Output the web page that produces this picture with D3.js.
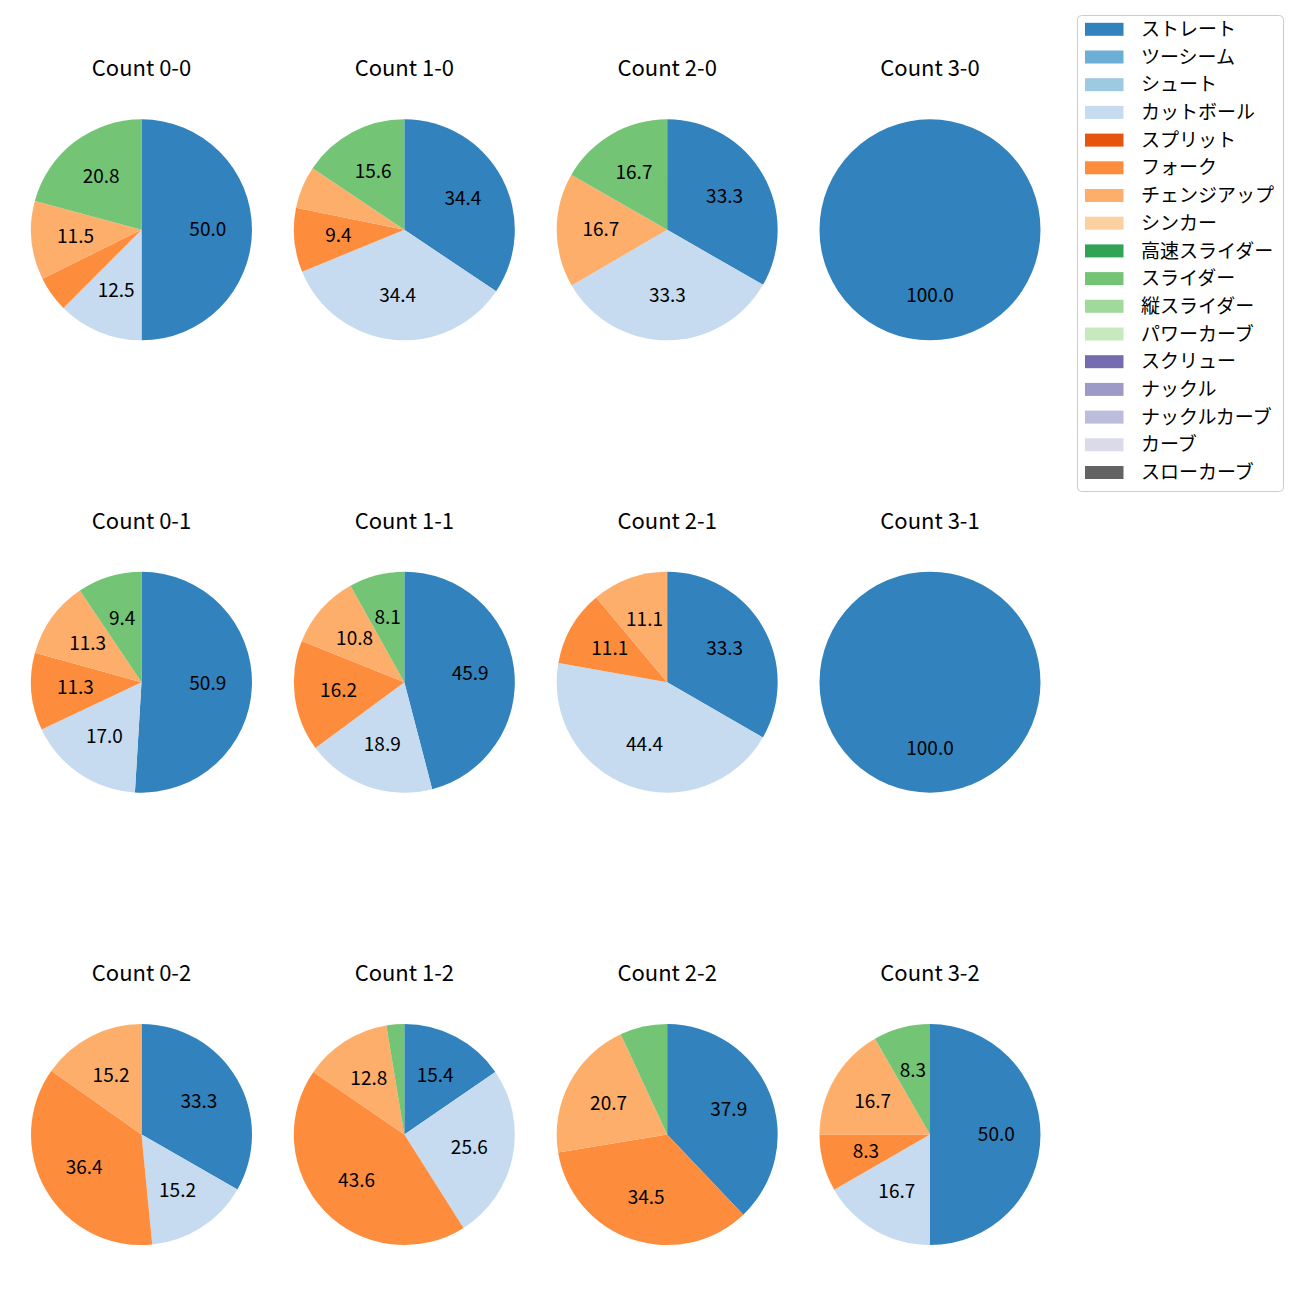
<!DOCTYPE html>
<html>
<head>
<meta charset="utf-8">
<script src="https://cdn.jsdelivr.net/npm/d3@7"></script>
<style>
  body { margin: 0; background: #fff; }
  svg { display: block; }
  text { font-family: "Noto Sans CJK JP", "Noto Sans", sans-serif; }
</style>
</head>
<body>
<svg id="chart" width="1300" height="1300"></svg>
<script>
// Pitch types (legend order) and tab20c colours
const pitchTypes = ["ストレート","ツーシーム","シュート","カットボール","スプリット","フォーク","チェンジアップ","シンカー","高速スライダー","スライダー","縦スライダー","パワーカーブ","スクリュー","ナックル","ナックルカーブ","カーブ","スローカーブ"];
const pitchColors = ["#3182bd","#6baed6","#9ecae1","#c6dbef","#e6550d","#fd8d3c","#fdae6b","#fdd0a2","#31a354","#74c476","#a1d99b","#c7e9c0","#756bb1","#9e9ac8","#bcbddc","#dadaeb","#636363"];

// Count titles, grid order (row-major)
const counts = ["0-0","1-0","2-0","3-0","0-1","1-1","2-1","3-1","0-2","1-2","2-2","3-2"];

// Percent shares per count, in pitchTypes order:
// [ストレート, ツーシーム, シュート, カットボール, スプリット, フォーク, チェンジアップ, シンカー, 高速スライダー, スライダー, 縦スライダー, パワーカーブ, スクリュー, ナックル, ナックルカーブ, カーブ, スローカーブ]
const share00 = [50.0,0,0,12.5,0,5.2,11.5,0,0,20.8,0,0,0,0,0,0,0];
const share10 = [34.4,0,0,34.4,0,9.4,6.2,0,0,15.6,0,0,0,0,0,0,0];
const share20 = [33.3,0,0,33.3,0,0,16.7,0,0,16.7,0,0,0,0,0,0,0];
const share30 = [100.0,0,0,0,0,0,0,0,0,0,0,0,0,0,0,0,0];
const share01 = [50.9,0,0,17.0,0,11.3,11.3,0,0,9.4,0,0,0,0,0,0,0];
const share11 = [45.9,0,0,18.9,0,16.2,10.8,0,0,8.1,0,0,0,0,0,0,0];
const share21 = [33.3,0,0,44.4,0,11.1,11.1,0,0,0,0,0,0,0,0,0,0];
const share31 = [100.0,0,0,0,0,0,0,0,0,0,0,0,0,0,0,0,0];
const share02 = [33.3,0,0,15.2,0,36.4,15.2,0,0,0,0,0,0,0,0,0,0];
const share12 = [15.4,0,0,25.6,0,43.6,12.8,0,0,2.6,0,0,0,0,0,0,0];
const share22 = [37.9,0,0,0,0,34.5,20.7,0,0,6.9,0,0,0,0,0,0,0];
const share32 = [50.0,0,0,16.7,0,8.3,16.7,0,0,8.3,0,0,0,0,0,0,0];
const shares = [share00,share10,share20,share30,share01,share11,share21,share31,share02,share12,share22,share32];

const labelThreshold = 7; // slices below this get no label

const svg = d3.select("#chart");
const color = d3.scaleOrdinal().domain(pitchTypes).range(pitchColors);

const colX = d3.scalePoint().domain([0,1,2,3]).range([141.5, 930]);
const rowY = d3.scalePoint().domain([0,1,2]).range([229.8, 1134.6]);
const R = 110.5;

const pie = d3.pie().sort(null).value(d => d.v).startAngle(0).endAngle(2 * Math.PI);
const arc = d3.arc().innerRadius(0).outerRadius(R);
const labelArc = d3.arc().innerRadius(R * 0.6).outerRadius(R * 0.6);

counts.forEach((c, i) => {
  const col = i % 4, row = Math.floor(i / 4);
  const cx = colX(col), cy = rowY(row);
  const g = svg.append("g").attr("transform", `translate(${cx},${cy})`);
  const data = pitchTypes.map((t, k) => ({ t, v: shares[i][k] })).filter(d => d.v > 0);
  const arcs = pie(data);
  g.selectAll("path").data(arcs).join("path")
    .attr("d", arc)
    .attr("fill", d => color(d.data.t));
  g.selectAll("text.lbl").data(arcs.filter(d => d.data.v >= labelThreshold)).join("text")
    .attr("class", "lbl")
    .attr("transform", d => `translate(${labelArc.centroid(d)})`)
    .attr("text-anchor", "middle")
    .attr("dy", "0.33em")
    .attr("font-size", 19)
    .attr("fill", "#000")
    .text(d => d.data.v.toFixed(1));
  g.append("text")
    .attr("x", 0).attr("y", -153.5)
    .attr("text-anchor", "middle")
    .attr("font-size", 22)
    .attr("fill", "#000")
    .text("Count " + c);
});

// Legend
const legX = 1077, legY = 15, legW = 206, legH = 476, rowH = 27.7;
const leg = svg.append("g");
leg.append("rect")
  .attr("x", legX + 0.5).attr("y", legY + 0.5)
  .attr("width", legW).attr("height", legH)
  .attr("rx", 4).attr("ry", 4)
  .attr("fill", "#fff").attr("fill-opacity", 0.8)
  .attr("stroke", "#cccccc").attr("stroke-width", 1);
const items = leg.selectAll("g.item").data(pitchTypes).join("g")
  .attr("class", "item")
  .attr("transform", (d, k) => `translate(${legX + 8},${legY + 14.3 + k * rowH})`);
items.append("rect")
  .attr("x", 0).attr("y", -6.5).attr("width", 38.5).attr("height", 13)
  .attr("fill", d => color(d));
items.append("text")
  .attr("x", 56).attr("y", 0).attr("dy", "0.35em")
  .attr("font-size", 19).attr("fill", "#000")
  .text(d => d);
</script>
</body>
</html>
